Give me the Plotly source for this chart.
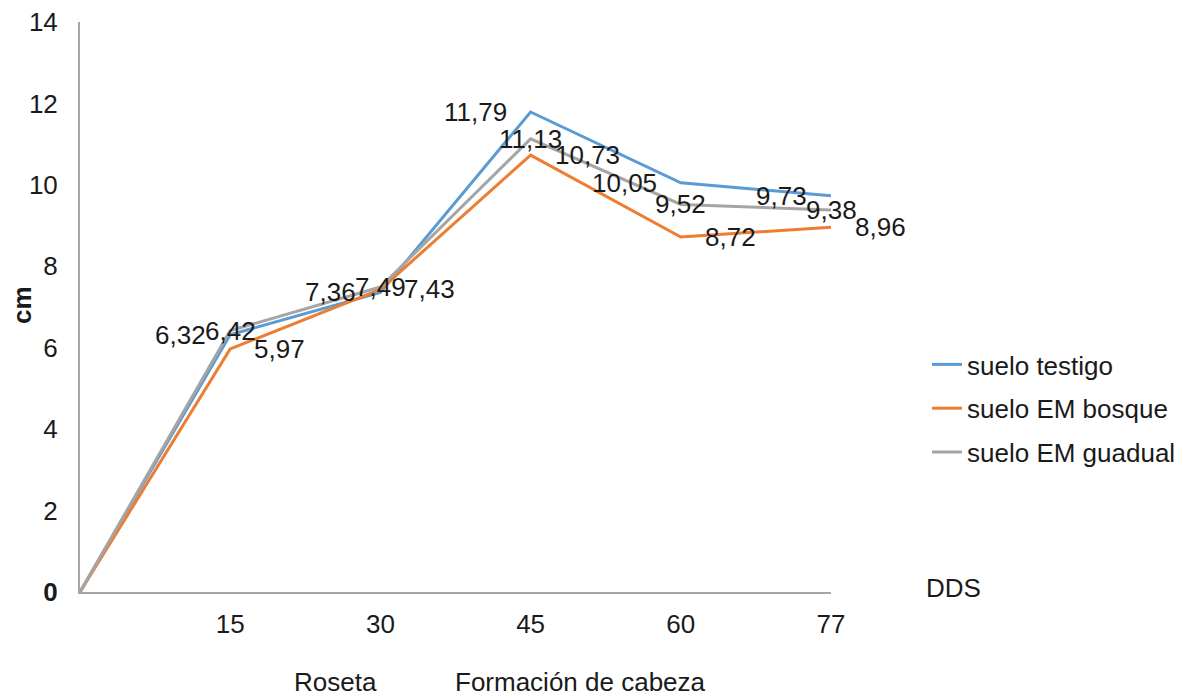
import plotly.graph_objects as go

# ---- data ----
days = ["0", "15", "30", "45", "60", "77"]
series_names = ["suelo testigo", "suelo EM bosque", "suelo EM guadual"]
testigo = [0, 6.32, 7.36, 11.79, 10.05, 9.73]
bosque = [0, 5.97, 7.43, 10.73, 8.72, 8.96]
guadual = [0, 6.42, 7.49, 11.13, 9.52, 9.38]
y_ticks = [0, 2, 4, 6, 8, 10, 12, 14]
y_ticktext = ["<b>0</b>", "2", "4", "6", "8", "10", "12", "14"]
phase_labels = ["Roseta", "Formación de cabeza"]

colors = ["#5B9BD5", "#ED7D31", "#A5A5A5"]
FONT = "Liberation Sans, Arial, sans-serif"
TXT = "#1a1a1a"
FS = 26

xs = list(range(len(days)))
all_series = [testigo, bosque, guadual]

fig = go.Figure()
for name, vals, col in zip(series_names, all_series, colors):
    fig.add_trace(go.Scatter(
        x=xs, y=vals, mode="lines", name=name,
        line=dict(color=col, width=3),
        legendgroup=name,
    ))

# data labels (testigo: left, bosque: right, guadual: centred)
label_style = [("right", -22), ("left", 22), ("center", 0)]
annotations = []
for vals, (anchor, shift) in zip(all_series, label_style):
    for xi, v in zip(xs[1:], vals[1:]):
        annotations.append(dict(
            x=xi, y=v, xref="x", yref="y",
            text=f"{v:.2f}".replace(".", ","),
            showarrow=False, xanchor=anchor, yanchor="middle",
            xshift=shift, font=dict(family=FONT, size=FS, color=TXT),
        ))

# page has an 8px body margin; figure coords = page coords - 8
OFF = 8
W, H = 1194 - OFF, 698 - OFF
L, T = 80 - OFF, 22 - OFF
PR, PB = 831 - OFF, 592 - OFF
R, B = W - PR, H - PB
pw, ph = PR - L, PB - T

def px_x(p):
    return (p - OFF - L) / pw

def px_y(p):
    return (PB - (p - OFF)) / ph

annotations += [
    dict(x=px_x(22), y=px_y(305), xref="paper", yref="paper", text="<b>cm</b>",
         textangle=-90, showarrow=False, xanchor="center", yanchor="middle",
         font=dict(family=FONT, size=FS, color=TXT)),
    dict(x=px_x(953), y=px_y(588), xref="paper", yref="paper", text="DDS",
         showarrow=False, xanchor="center", yanchor="middle",
         font=dict(family=FONT, size=FS, color=TXT)),
    dict(x=px_x(335), y=px_y(682), xref="paper", yref="paper", text=phase_labels[0],
         showarrow=False, xanchor="center", yanchor="middle",
         font=dict(family=FONT, size=FS, color=TXT)),
    dict(x=px_x(580), y=px_y(682), xref="paper", yref="paper", text=phase_labels[1],
         showarrow=False, xanchor="center", yanchor="middle",
         font=dict(family=FONT, size=FS, color=TXT)),
]

fig.update_layout(
    width=W, height=H,
    margin=dict(l=L, r=R, t=T, b=B, autoexpand=False),
    paper_bgcolor="white", plot_bgcolor="white",
    font=dict(family=FONT, size=FS, color=TXT),
    showlegend=True,
    legend=dict(
        x=px_x(927), y=px_y(341), xanchor="left", yanchor="top",
        font=dict(family=FONT, size=FS, color=TXT),
        tracegroupgap=7, traceorder="grouped",
        bgcolor="rgba(0,0,0,0)",
    ),
    annotations=annotations,
)
fig.update_xaxes(
    range=[0, len(days) - 1], tickvals=xs[1:], ticktext=days[1:],
    showgrid=False, zeroline=False, showline=True, linecolor="#a6a6a6", linewidth=2,
    ticks="", ticklabelstandoff=8, ticklabeloverflow="allow",
    tickfont=dict(family=FONT, size=FS, color=TXT),
)
fig.update_yaxes(
    range=[0, 14], tickvals=y_ticks, ticktext=y_ticktext,
    showgrid=False, zeroline=False, showline=True, linecolor="#a6a6a6", linewidth=2,
    ticks="", ticklabelstandoff=15, ticklabeloverflow="allow",
    tickfont=dict(family=FONT, size=FS, color=TXT),
)

fig.write_html("out.html")
